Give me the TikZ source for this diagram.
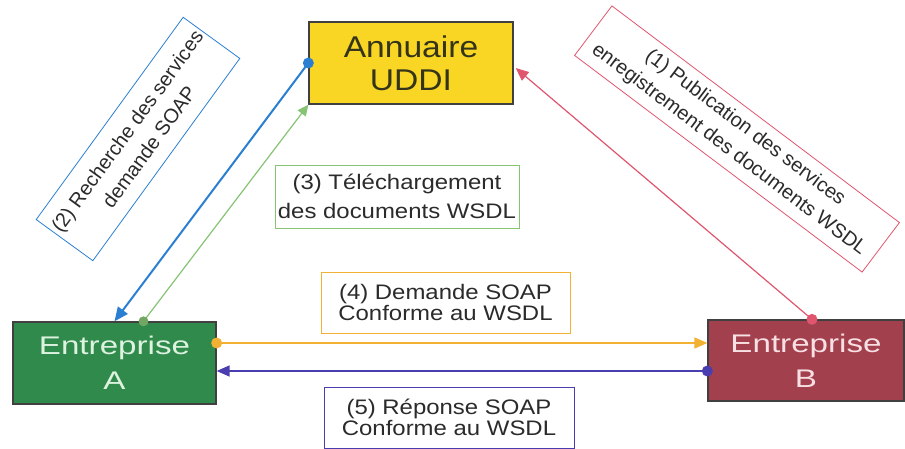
\documentclass[tikz,border=0pt]{standalone}
\usepackage{fontspec}
\setmainfont{Liberation Sans}
\newfontfamily\lblfont[FakeStretch=1.14]{Liberation Sans}
\newfontfamily\entfont[FakeStretch=1.3]{Liberation Sans}
\newfontfamily\udfont[FakeStretch=1.12]{Liberation Sans}
\usetikzlibrary{arrows.meta,calc}

\definecolor{uddiY}{HTML}{F9D524}
\definecolor{uddiT}{HTML}{34341A}
\definecolor{entA}{HTML}{2F8A4C}
\definecolor{entAT}{HTML}{DDF2DF}
\definecolor{entB}{HTML}{A3404E}
\definecolor{entBT}{HTML}{F7E0E3}
\definecolor{cBlue}{HTML}{2A7FD2}
\definecolor{cGreen}{HTML}{86C474}
\definecolor{cRed}{HTML}{E0566E}
\definecolor{cOrange}{HTML}{F3B134}
\definecolor{cPurple}{HTML}{4A3DB0}
\definecolor{lblT}{HTML}{2B2B2B}

\tikzset{
  actor/.style={draw=black!75, line width=1.3pt, inner sep=0pt, align=center},
  entr/.style={actor, font=\entfont\fontsize{25.5}{35}\selectfont},
  lbl/.style={draw, fill=white, line width=0.8pt, inner sep=0pt, align=center,
    text=lblT},
  rlbl/.style={lbl, font=\fontsize{20}{27}\selectfont},
}

\begin{document}
\begin{tikzpicture}[x=1pt,y=-1pt]
\useasboundingbox (0,0) rectangle (905,449);
\fill[white] (0,0) rectangle (905,449);

% the three parties
\node[actor, fill=uddiY, text=uddiT, font=\udfont\fontsize{30}{33}\selectfont,
  minimum width=204pt, minimum height=82pt] (uddi) at (411,63) {Annuaire\\UDDI};
\node[entr, fill=entA, text=entAT, minimum width=203pt, minimum height=82pt]
  (A) at (114.5,363) {Entreprise\\A};
\node[entr, fill=entB, text=entBT, minimum width=196pt, minimum height=81pt]
  (B) at (806,360.5) {Entreprise\\B};

% connector end points
\coordinate (y4) at (0,343);
\coordinate (y5) at (0,371);
\coordinate (g0) at ($(A.north)+(29,0)$);
\coordinate (r0) at ($(B.north)+(6,0)$);
\coordinate (r1) at ($(uddi.east)+(2,5)$);
\coordinate (o0) at (A.east |- y4);
\coordinate (o1) at (B.west |- y4);
\coordinate (p0) at (B.west |- y5);
\coordinate (p1) at (A.east |- y5);

% messages
\draw[cBlue, line width=2pt, -{Triangle[length=14pt,width=12pt]}] (uddi.west) -- (A.north);
\draw[cGreen, line width=1.2pt, -{Triangle[length=11pt,width=10pt]}] (g0) -- (uddi.south west);
\draw[cRed, line width=1.2pt, -{Triangle[length=13pt,width=11pt]}] (r0) -- (r1);
\draw[cOrange, line width=1.6pt, -{Triangle[length=13pt,width=11pt]}] (o0) -- (o1);
\draw[cPurple, line width=1.6pt, -{Triangle[length=13pt,width=11pt]}] (p0) -- (p1);

% start dots
\fill[cBlue] (uddi.west) circle (5.5);
\fill[cGreen!85!black] (g0) circle (5);
\fill[cRed] (r0) circle (5.5);
\fill[cOrange] (o0) circle (5.5);
\fill[cPurple] (p0) circle (5.5);

% message labels
\node[rlbl, draw=cRed, rotate=-37, minimum width=360pt, minimum height=62pt]
  (l1) at (737,139) {(1) Publication des services\\enregistrement des documents WSDL};
\node[rlbl, draw=cBlue, rotate=54, minimum width=250pt, minimum height=70pt]
  (l2) at (138,139) {(2) Recherche des services\\demande SOAP};
\node[lbl, draw=cGreen, font=\lblfont\fontsize{21}{29}\selectfont,
  minimum width=244pt, minimum height=63pt]
  (l3) at (397,196.5) {(3) Téléchargement\\des documents WSDL};
\node[lbl, draw=cOrange, font=\lblfont\fontsize{21}{19}\selectfont,
  minimum width=249pt, minimum height=61pt]
  (l4) at (445.5,302.5) {(4) Demande SOAP\\Conforme au WSDL};
\node[lbl, draw=cPurple, font=\lblfont\fontsize{21}{21}\selectfont,
  minimum width=250pt, minimum height=61pt]
  (l5) at (449,417.5) {(5) Réponse SOAP\\Conforme au WSDL};
\end{tikzpicture}
\end{document}
